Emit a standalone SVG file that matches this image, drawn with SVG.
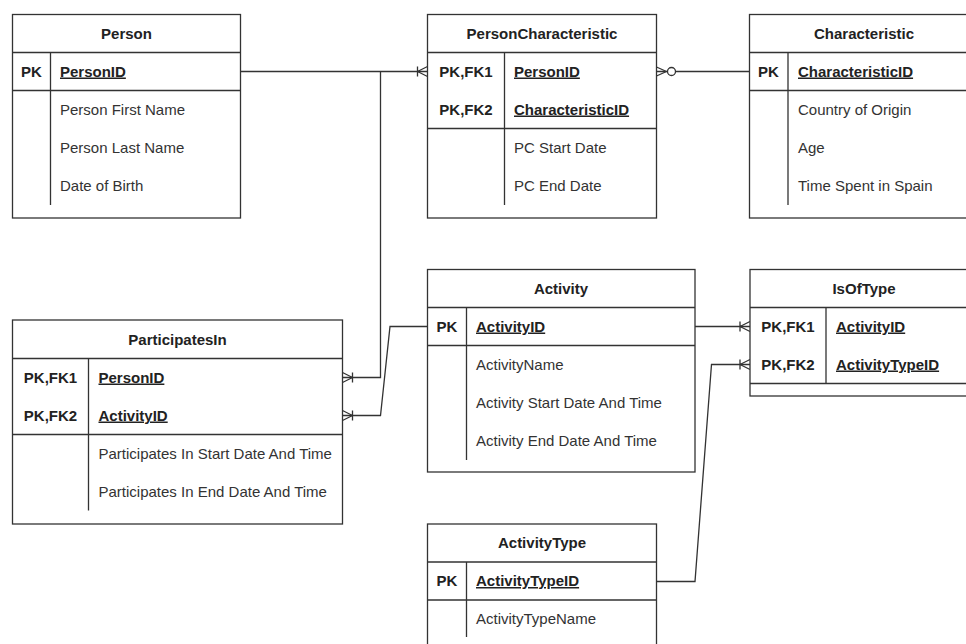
<svg xmlns="http://www.w3.org/2000/svg" width="966" height="644" viewBox="0 0 966 644">
<style>
.box{fill:#fff;stroke:#333;stroke-width:1.3}
.ln{fill:none;stroke:#333;stroke-width:1.3}
.t{font-family:"Liberation Sans",Arial,sans-serif;font-size:15px}
.h{font-weight:bold;fill:#222;text-anchor:middle}
.k{font-weight:bold;fill:#222;text-anchor:middle}
.pk{font-weight:bold;fill:#222;text-decoration:underline}
.f{fill:#333}
</style>
<defs>
<marker id="oneMany" markerUnits="userSpaceOnUse" viewBox="-20 -10 30 20" refX="0" refY="0" markerWidth="30" markerHeight="20" orient="auto" overflow="visible">
<path d="M-10,0 L0,-5 M-10,0 L0,5 M-10,-5 L-10,5" fill="none" stroke="#333" stroke-width="1.3"/>
</marker>
<marker id="zeroMany" markerUnits="userSpaceOnUse" viewBox="-25 -10 35 20" refX="0" refY="0" markerWidth="35" markerHeight="20" orient="auto" overflow="visible">
<path d="M-10,0 L0,-4.5 M-10,0 L0,4.5" fill="none" stroke="#333" stroke-width="1.3"/>
<circle cx="-15" cy="0" r="4" fill="#fff" stroke="#333" stroke-width="1.3"/>
</marker>
</defs>
<rect width="966" height="644" fill="#fff"/>

<g id="connectors">
<path class="ln" d="M240.5,71.5 H427.5" marker-end="url(#oneMany)"/>
<path class="ln" d="M380.5,71.5 V377.5 H342.5" marker-end="url(#oneMany)"/>
<path class="ln" d="M749.5,71.5 H656.5" marker-end="url(#zeroMany)"/>
<path class="ln" d="M427.5,326.5 H390 L380.5,415.5 H342.5" marker-end="url(#oneMany)"/>
<path class="ln" d="M695,326.5 H750" marker-end="url(#oneMany)"/>
<path class="ln" d="M656.5,581.5 H695 L711.5,364.5 H750" marker-end="url(#oneMany)"/>
</g>

<g id="Person" class="t">
<rect class="box" x="12.5" y="14.5" width="228" height="203.5"/>
<path class="ln" d="M12.5,52.5 H240.5 M12.5,90.5 H240.5 M50.5,52.5 V205"/>
<text class="h" x="126.5" y="38.5">Person</text>
<text class="k" x="31.5" y="76.5">PK</text>
<text class="pk" x="60" y="76.5">PersonID</text>
<text class="f" x="60" y="114.5">Person First Name</text>
<text class="f" x="60" y="152.5">Person Last Name</text>
<text class="f" x="60" y="190.5">Date of Birth</text>
</g>

<g id="PersonCharacteristic" class="t">
<rect class="box" x="427.5" y="14.5" width="229" height="203.5"/>
<path class="ln" d="M427.5,52.5 H656.5 M427.5,128.5 H656.5 M504.5,52.5 V205"/>
<text class="h" x="542" y="38.5">PersonCharacteristic</text>
<text class="k" x="466" y="76.5">PK,FK1</text>
<text class="k" x="466" y="114.5">PK,FK2</text>
<text class="pk" x="514" y="76.5">PersonID</text>
<text class="pk" x="514" y="114.5">CharacteristicID</text>
<text class="f" x="514" y="152.5">PC Start Date</text>
<text class="f" x="514" y="190.5">PC End Date</text>
</g>

<g id="Characteristic" class="t">
<rect class="box" x="749.5" y="14.5" width="229" height="203.5"/>
<path class="ln" d="M749.5,52.5 H978.5 M749.5,90.5 H978.5 M788,52.5 V205"/>
<text class="h" x="864" y="38.5">Characteristic</text>
<text class="k" x="768.5" y="76.5">PK</text>
<text class="pk" x="798" y="76.5">CharacteristicID</text>
<text class="f" x="798" y="114.5">Country of Origin</text>
<text class="f" x="798" y="152.5">Age</text>
<text class="f" x="798" y="190.5">Time Spent in Spain</text>
</g>

<g id="Activity" class="t">
<rect class="box" x="427.5" y="269.5" width="267.5" height="202.5"/>
<path class="ln" d="M427.5,307.5 H695 M427.5,345.5 H695 M466.5,307.5 V460"/>
<text class="h" x="561" y="293.5">Activity</text>
<text class="k" x="447" y="331.5">PK</text>
<text class="pk" x="476" y="331.5">ActivityID</text>
<text class="f" x="476" y="369.5">ActivityName</text>
<text class="f" x="476" y="407.5">Activity Start Date And Time</text>
<text class="f" x="476" y="445.5">Activity End Date And Time</text>
</g>

<g id="IsOfType" class="t">
<rect class="box" x="750" y="269.5" width="229" height="126.5"/>
<path class="ln" d="M750,307.5 H979 M750,383.5 H979 M826,307.5 V383.5"/>
<text class="h" x="864" y="293.5">IsOfType</text>
<text class="k" x="788" y="331.5">PK,FK1</text>
<text class="k" x="788" y="369.5">PK,FK2</text>
<text class="pk" x="836" y="331.5">ActivityID</text>
<text class="pk" x="836" y="369.5">ActivityTypeID</text>
</g>

<g id="ParticipatesIn" class="t">
<rect class="box" x="12.5" y="320" width="330" height="204"/>
<path class="ln" d="M12.5,358.5 H342.5 M12.5,434.5 H342.5 M88.5,358.5 V510.5"/>
<text class="h" x="177.5" y="344.5">ParticipatesIn</text>
<text class="k" x="50.5" y="382.5">PK,FK1</text>
<text class="k" x="50.5" y="420.5">PK,FK2</text>
<text class="pk" x="98.5" y="382.5">PersonID</text>
<text class="pk" x="98.5" y="420.5">ActivityID</text>
<text class="f" x="98.5" y="458.5">Participates In Start Date And Time</text>
<text class="f" x="98.5" y="496.5">Participates In End Date And Time</text>
</g>

<g id="ActivityType" class="t">
<rect class="box" x="427.5" y="524" width="229" height="140"/>
<path class="ln" d="M427.5,562 H656.5 M427.5,600 H656.5 M466.5,562 V637"/>
<text class="h" x="542" y="548">ActivityType</text>
<text class="k" x="447" y="586">PK</text>
<text class="pk" x="476" y="586">ActivityTypeID</text>
<text class="f" x="476" y="624">ActivityTypeName</text>
</g>
</svg>
